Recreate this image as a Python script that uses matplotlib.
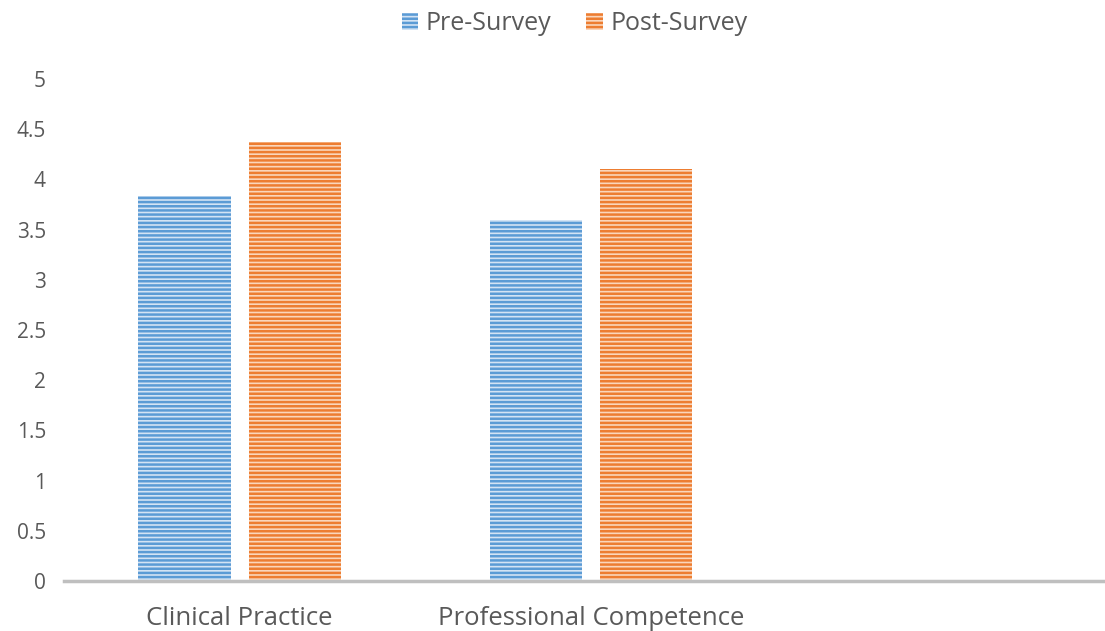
import matplotlib
matplotlib.use("Agg")
import matplotlib.pyplot as plt
import numpy as np

# data
categories = ["Clinical Practice", "Professional Competence", ""]
pre_survey = [3.83, 3.60, np.nan]
post_survey = [4.37, 4.10, np.nan]
series_names = ["Pre-Survey", "Post-Survey"]
y_ticks = [0, 0.5, 1, 1.5, 2, 2.5, 3, 3.5, 4, 4.5, 5]

TEXT = "#595959"
plt.rcParams["font.family"] = ["Open Sans", "DejaVu Sans"]
plt.rcParams["hatch.linewidth"] = 1.8

fig = plt.figure(figsize=(11.05, 6.31), dpi=100)
ax = fig.add_axes([64 / 1105, 50 / 631, 1054 / 1105, 502 / 631])

x = np.arange(len(categories))
w = 0.262
off = 0.157
b1 = ax.bar(x - off, pre_survey, w, facecolor="#d3e3f4", edgecolor="#5b9bd5",
            hatch="----", lw=0, label=series_names[0])
b2 = ax.bar(x + off, post_survey, w, facecolor="#fad6bb", edgecolor="#ed7d31",
            hatch="----", lw=0, label=series_names[1])

ax.set_xlim(-0.5, 2.5)
ax.set_ylim(0, 5)
ax.set_yticks(y_ticks)
ax.set_yticklabels([f"{t:g}" for t in y_ticks])
ax.set_xticks(x)
ax.set_xticklabels(categories, fontsize=18.5, color=TEXT)
ax.tick_params(axis="x", length=0, pad=18)
ax.tick_params(axis="y", length=0, pad=13, labelsize=15, labelcolor=TEXT)

for side in ["top", "right", "left"]:
    ax.spines[side].set_visible(False)
ax.spines["bottom"].set_color("#bfbfbf")
ax.spines["bottom"].set_linewidth(2.5)

fig.legend(handles=[b1, b2], loc="center", bbox_to_anchor=(0.52, 0.962),
           ncol=2, frameon=False, fontsize=18, labelcolor=TEXT,
           handlelength=0.65, handleheight=0.65, handletextpad=0.3,
           columnspacing=1.4)

fig.savefig("out.png", dpi=100)
